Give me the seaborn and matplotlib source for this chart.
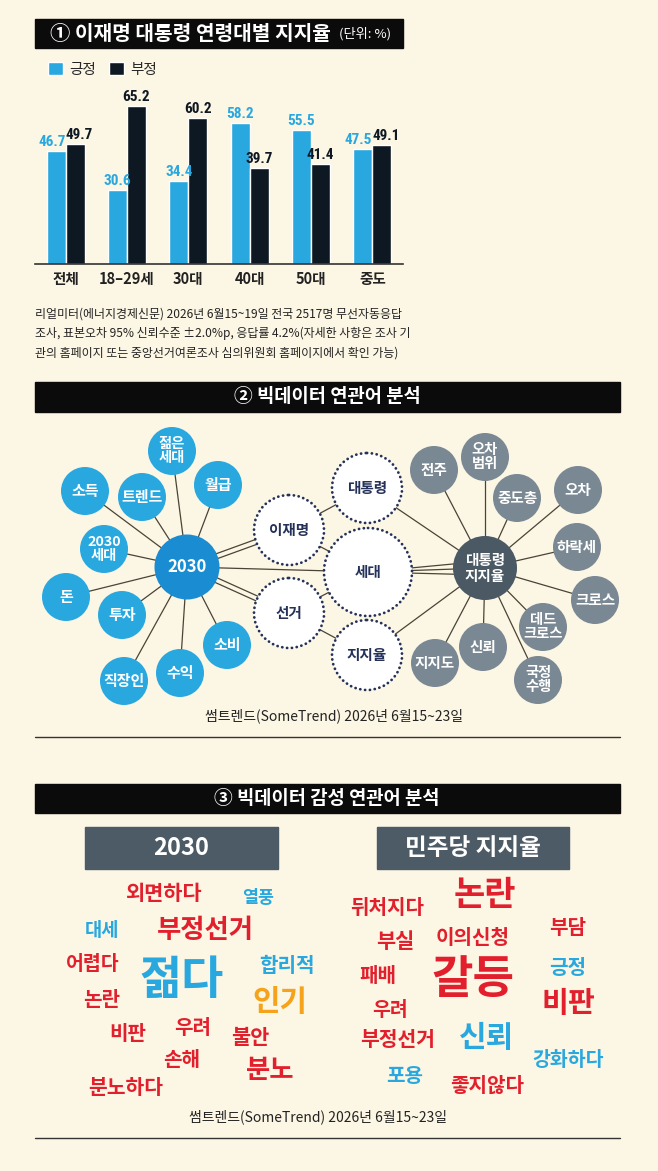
import numpy as np
import pandas as pd
import matplotlib
matplotlib.use('Agg')
import matplotlib.pyplot as plt
from matplotlib.patches import Circle, Rectangle
from matplotlib import font_manager
import seaborn as sns

# ---- chart 1 data: approval by age group (%)
age_groups = ['전체', '18–29세', '30대', '40대', '50대', '중도']
approve = [46.7, 30.6, 34.4, 58.2, 55.5, 47.5]
disapprove = [49.7, 65.2, 60.2, 39.7, 41.4, 49.1]
series_names = ['긍정', '부정']

survey_note = ['리얼미터(에너지경제신문) 2026년 6월15~19일 전국 2517명 무선자동응답',
               '조사, 표본오차 95% 신뢰수준 ±2.0%p, 응답률 4.2%(자세한 사항은 조사 기',
               '관의 홈페이지 또는 중앙선거여론조사 심의위원회 홈페이지에서 확인 가능)']
trend_note = '썸트렌드(SomeTrend) 2026년 6월15~23일'

# ---- chart 2 data: related-word network
hub_left = '2030'
left_words = ['젊은\n세대', '월급', '소득', '트렌드', '2030\n세대', '돈', '투자', '소비', '수익', '직장인']
hub_right = '대통령\n지지율'
right_words = ['전주', '오차\n범위', '중도층', '오차', '하락세', '크로스', '데드\n크로스', '국정\n수행', '신뢰', '지지도']
bridge_words = ['이재명', '선거', '대통령', '세대', '지지율']
# (from, to, number of links)
bridge_links = [(hub_left, '이재명', 2), (hub_left, '세대', 1), (hub_left, '선거', 2),
                ('이재명', '대통령', 1), ('이재명', '세대', 1), ('선거', '세대', 1),
                ('선거', '지지율', 1), ('대통령', hub_right, 1), ('세대', hub_right, 3),
                ('지지율', hub_right, 1)]

# ---- chart 3 data: sentiment word clouds (word, weight, tone)
cloud_left_words = ['외면하다', '열풍', '대세', '부정선거', '어렵다', '합리적', '젊다', '인기',
                    '논란', '비판', '우려', '불안', '손해', '분노', '분노하다']
cloud_left_weight = [15, 12.5, 13.5, 19, 14, 14.5, 33, 21.5, 14.5, 14.5, 14.5, 15, 14.5, 19, 14.7]
cloud_left_tone = ['neg', 'pos', 'pos', 'neg', 'neg', 'pos', 'pos', 'neu',
                   'neg', 'neg', 'neg', 'neg', 'neg', 'neg', 'neg']
cloud_right_words = ['논란', '뒤처지다', '부실', '이의신청', '부담', '긍정', '패배', '갈등',
                     '비판', '우려', '부정선거', '신뢰', '강화하다', '포용', '좋지않다']
cloud_right_weight = [24.5, 14.5, 15, 14.5, 14.5, 14.5, 14.5, 32.5, 21, 14, 14.7, 21.6, 14, 14.5, 14.5]
cloud_right_tone = ['neg', 'neg', 'neg', 'neg', 'neg', 'pos', 'neg', 'neg',
                    'neg', 'neg', 'neg', 'pos', 'pos', 'pos', 'neg']

# ---- layout (pixels)
W, H = 658, 1171
left_xy = [(172, 451), (218, 485), (85, 491), (142, 497), (104, 549),
           (66, 597), (122, 615), (227, 645), (180, 673), (124, 681)]
right_xy = [(434, 470), (485, 457), (517, 498), (578, 490), (577, 547),
            (595, 600), (543, 627), (538, 680), (483, 647), (435, 663)]
bridge_xy = {'이재명': (289, 530, 35), '선거': (289, 613, 35), '대통령': (367, 488, 35),
             '세대': (368, 572, 44), '지지율': (367, 655, 35)}
hub_xy = {hub_left: (187, 567, 32.5), hub_right: (485, 568, 32)}
cloud_left_xy = [(163, 893), (258, 898), (102, 930), (205, 930), (93, 965), (287, 965),
                 (182, 981), (280, 1002), (102, 1000), (128, 1033), (193, 1027), (250, 1037),
                 (182, 1060), (270, 1070), (126, 1087)]
cloud_right_xy = [(485, 895), (387, 908), (395, 942), (473, 937), (568, 928), (568, 967),
                  (378, 975), (473, 980), (568, 1003), (390, 1010), (398, 1040), (487, 1038),
                  (568, 1060), (405, 1075), (487, 1085)]

BG = '#FCF6E4'
BLUE = '#29A8E0'
NAVY = '#0E1822'
HUB_BLUE = '#1A8CD2'
GRAY = '#7A8893'
HUB_GRAY = '#4B5965'
DOT_NAVY = '#243158'
LINE = '#4A4438'
RED = '#E21F2D'
ORANGE = '#F5A31A'
tone_color = {'neg': RED, 'pos': BLUE, 'neu': ORANGE}

sns.set_theme(style='white', rc={'figure.facecolor': BG, 'axes.facecolor': BG})
plt.rcParams['font.family'] = ['Noto Sans CJK KR', 'DejaVu Sans']

names = {f.name for f in font_manager.fontManager.ttflist}
num_font = next((n for n in ['Liberation Sans Narrow', 'Roboto Condensed'] if n in names),
                'Noto Sans CJK KR')

fig = plt.figure(figsize=(W / 100, H / 100), dpi=100)
page = fig.add_axes([0, 0, 1, 1])
page.set_xlim(0, W)
page.set_ylim(H, 0)
page.axis('off')


def header(y0, y1, x0, x1):
    page.add_patch(Rectangle((x0, y0), x1 - x0, y1 - y0, color='#0B0B0B', zorder=1))


# ---------- section 1 ----------
header(19, 48, 35, 403)
page.text(50, 33.5, '① 이재명 대통령 연령대별 지지율', color='white', fontsize=14.6,
          fontweight='bold', ha='left', va='center', zorder=2)
page.text(391, 34, '(단위: %)', color='white', fontsize=9.5, ha='right', va='center', zorder=2)

df = pd.DataFrame({'연령': age_groups * 2,
                   '값': approve + disapprove,
                   '구분': [series_names[0]] * len(age_groups) + [series_names[1]] * len(age_groups)})

bar_ax = fig.add_axes([35 / W, 1 - 264 / H, 368 / W, 169 / H])
bar_ax.patch.set_visible(False)
sns.barplot(data=df, x='연령', y='값', hue='구분', palette=[BLUE, NAVY], width=0.62,
            saturation=1, errorbar=None, ax=bar_ax)
bar_ax.set_ylim(0, 169 / 2.42)
bar_ax.set_xlim(-0.5, len(age_groups) - 0.5)
close = [abs(a - b) < 6 for a, b in zip(approve, disapprove)]
for k, (cont, col) in enumerate(zip(bar_ax.containers, [BLUE, NAVY])):
    anns = bar_ax.bar_label(cont, fmt='%.1f', padding=1.5, color=col, fontsize=11,
                            fontweight='bold', family=num_font)
    for ann, c in zip(anns, close):
        if c:
            ann.xyann = (-3.2 if k == 0 else 3.2, 1.5)
bar_ax.set_xlabel('')
bar_ax.set_ylabel('')
bar_ax.set_yticks([])
for s in ['top', 'left', 'right']:
    bar_ax.spines[s].set_visible(False)
bar_ax.spines['bottom'].set_color('#333333')
bar_ax.spines['bottom'].set_linewidth(1.2)
bar_ax.tick_params(axis='x', length=0, pad=5, labelsize=10.5, labelcolor='#222222')
for t in bar_ax.get_xticklabels():
    t.set_fontweight('bold')
sns.move_legend(bar_ax, 'upper left', bbox_to_anchor=((48 - 35) / 368, (264 - 62) / 169),
                ncol=2, frameon=False, title=None, handlelength=1.0, handleheight=1.0,
                handletextpad=0.45, columnspacing=0.9, borderaxespad=0, borderpad=0,
                fontsize=10.5)

for i, line in enumerate(survey_note):
    page.text(35, 314 + i * 19.5, line, fontsize=8.6, color='#222222', ha='left', va='center')

# ---------- section 2 ----------
header(382, 412, 35, 620)
page.text(327, 397, '② 빅데이터 연관어 분석', color='white', fontsize=13.5,
          fontweight='bold', ha='center', va='center', zorder=2)

allpos = {k: v[:2] for k, v in bridge_xy.items()}
allpos.update({k: v[:2] for k, v in hub_xy.items()})


def link(p, q, n):
    p, q = np.array(p, float), np.array(q, float)
    d = q - p
    nrm = np.array([-d[1], d[0]]) / np.hypot(*d)
    offs = (np.arange(n) - (n - 1) / 2) * (5 if n == 2 else 7)
    for o in offs:
        a, b = p + nrm * o * (0 if n == 3 else 1), q + nrm * o
        page.plot([a[0], b[0]], [a[1], b[1]], color=LINE, lw=0.9, zorder=3)


for w, xy in zip(left_words, left_xy):
    link(hub_xy[hub_left][:2], xy, 1)
for w, xy in zip(right_words, right_xy):
    link(hub_xy[hub_right][:2], xy, 1)
for a, b, n in bridge_links:
    link(allpos[a], allpos[b], n)


def node(x, y, r, face, label, color='white', size=10.5, dotted=False):
    if dotted:
        c = Circle((x, y), r, facecolor='white', edgecolor=DOT_NAVY, lw=2.0,
                   linestyle=(0, (0.05, 1.7)), zorder=4)
        c.set_capstyle('round')
    else:
        c = Circle((x, y), r, facecolor=face, edgecolor='none', zorder=4)
    page.add_patch(c)
    page.text(x, y, label, color=color, fontsize=size, fontweight='bold', ha='center',
              va='center', linespacing=1.05, zorder=5)


for w, (x, y) in zip(left_words, left_xy):
    node(x, y, 24, BLUE, w, size=10.3 if '\n' in w else 10.8)
for w, (x, y) in zip(right_words, right_xy):
    node(x, y, 24, GRAY, w, size=10.3 if '\n' in w else 10.5)
for w, (x, y, r) in bridge_xy.items():
    node(x, y, r, 'white', w, color=DOT_NAVY, size=10.5, dotted=True)
node(*hub_xy[hub_left], HUB_BLUE, hub_left, size=12)
node(*hub_xy[hub_right], HUB_GRAY, hub_right, size=10.5)

page.text(334, 716, trend_note, fontsize=10, color='#222222', ha='center', va='center')
page.plot([35, 620], [737, 737], color='#333333', lw=1)

# ---------- section 3 ----------
header(784, 813, 35, 620)
page.text(327, 798.5, '③ 빅데이터 감성 연관어 분석', color='white', fontsize=13.5,
          fontweight='bold', ha='center', va='center', zorder=2)
for (x0, x1), title in zip([(85, 278), (377, 569)], ['2030', '민주당 지지율']):
    page.add_patch(Rectangle((x0, 827), x1 - x0, 42, color='#4D5B66', zorder=1))
    page.text((x0 + x1) / 2, 848, title, color='white', fontsize=17, fontweight='bold',
              ha='center', va='center', zorder=2)

for words, weights, tones, xys in [(cloud_left_words, cloud_left_weight, cloud_left_tone, cloud_left_xy),
                                   (cloud_right_words, cloud_right_weight, cloud_right_tone, cloud_right_xy)]:
    for w, s, t, (x, y) in zip(words, weights, tones, xys):
        page.text(x, y, w, fontsize=s, color=tone_color[t], fontweight='bold',
                  ha='center', va='center')

page.text(318, 1117, trend_note, fontsize=10, color='#222222', ha='center', va='center')
page.plot([35, 620], [1138, 1138], color='#333333', lw=1)

fig.savefig('out.png', dpi=100, facecolor=BG)
